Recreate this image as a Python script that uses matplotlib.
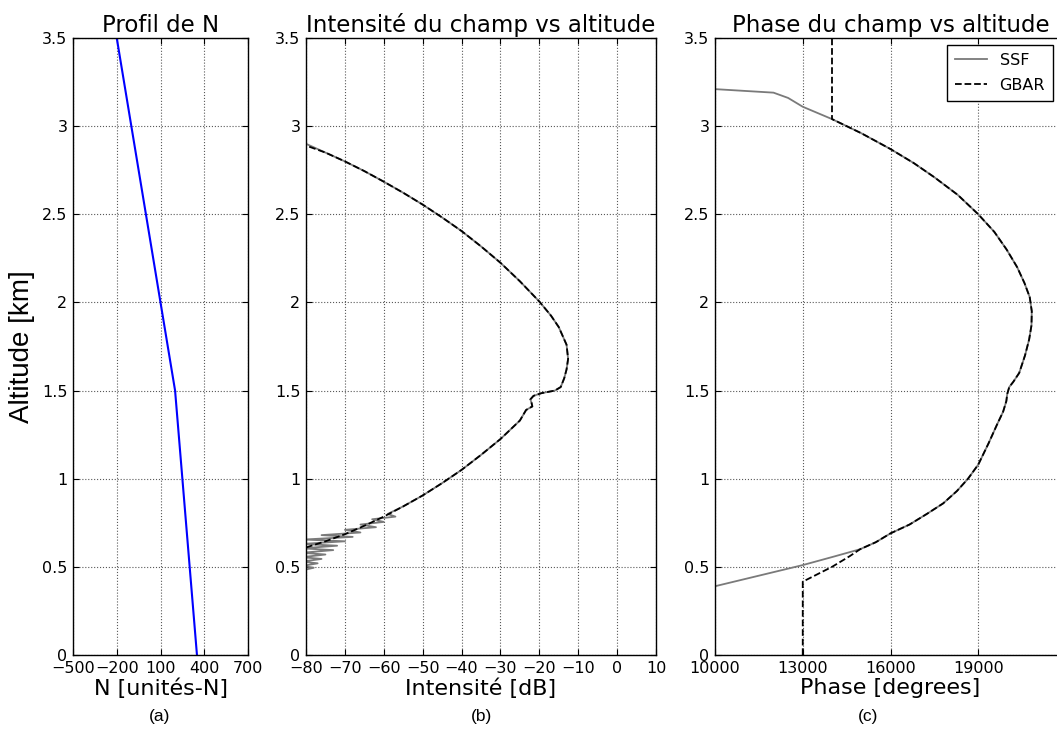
import matplotlib
matplotlib.use('Agg')
import matplotlib.pyplot as plt

# ── Data ─────────────────────────────────────────────────────────────────────
# (a) refractivity profile
n_alt = [0.0, 1.5, 3.5]
n_val = [350, 200, -200]

# (b) field intensity [dB] vs altitude [km]
gbar_b_alt = [0.61, 0.645, 0.685, 0.733, 0.785, 0.843, 0.905, 0.975, 1.05, 1.135, 1.225,
              1.33, 1.39, 1.41, 1.43, 1.45, 1.47, 1.485, 1.50, 1.52, 1.57, 1.62, 1.68,
              1.76, 1.86, 1.925, 2.005, 2.12, 2.225, 2.318, 2.405, 2.482, 2.555, 2.622,
              2.685, 2.745, 2.80, 2.85, 2.89]
gbar_b_db = [-80, -75, -70, -65, -60, -55, -50, -45, -40, -35, -30,
             -25, -23.4, -21.8, -22.0, -22.3, -21.5, -19.5, -16.0, -14.5, -13.6, -13.0, -12.6,
             -13.0, -15.0, -17.0, -20.0, -25.0, -30.0, -35.0, -40.0, -45.0, -50.0, -55.0,
             -60.0, -65.0, -70.0, -75.0, -80]
# SSF: zigzag at low altitude, then the same trace as GBAR
ssf_b_alt = [0.48, 0.495, 0.505, 0.52, 0.53, 0.545, 0.555, 0.57, 0.58, 0.595, 0.605,
             0.62, 0.63, 0.645, 0.655, 0.67, 0.68, 0.695, 0.71, 0.725, 0.74, 0.755,
             0.77, 0.785, 0.80, 0.843, 0.905, 0.975, 1.05, 1.135, 1.225,
             1.33, 1.39, 1.41, 1.43, 1.45, 1.47, 1.485, 1.50, 1.52, 1.57, 1.62, 1.68,
             1.76, 1.86, 1.925, 2.005, 2.12, 2.225, 2.318, 2.405, 2.482, 2.555, 2.622,
             2.685, 2.745, 2.80, 2.85, 2.90]
ssf_b_db = [-81, -78, -81, -77, -81, -76, -81, -75, -81, -73, -81,
            -72, -81, -70, -80.5, -68, -76, -66, -70, -62, -66, -60,
            -63, -57, -59, -55, -50, -45, -40, -35, -30,
            -25, -23.4, -21.8, -22.0, -22.3, -21.5, -19.5, -16.0, -14.5, -13.6, -13.0, -12.6,
            -13.0, -15.0, -17.0, -20.0, -25.0, -30.0, -35.0, -40.0, -45.0, -50.0, -55.0,
            -60.0, -65.0, -70.0, -75.0, -80]

# (c) field phase [degrees] vs altitude [km]
ssf_c_alt = [0.39, 0.45, 0.51, 0.56, 0.60, 0.64, 0.69, 0.74, 0.80, 0.86, 0.93, 1.00,
             1.08, 1.20, 1.31, 1.38, 1.44, 1.48, 1.52, 1.55, 1.60, 1.70, 1.79, 1.87,
             1.95, 2.03, 2.11, 2.20, 2.30, 2.40, 2.50, 2.61, 2.71, 2.79, 2.87, 2.96,
             3.04, 3.11, 3.16, 3.19, 3.21]
ssf_c_ph = [10000, 11500, 13000, 14100, 14960, 15500, 16000, 16650, 17240, 17800, 18270, 18650,
            19000, 19350, 19650, 19850, 19960, 19990, 20060, 20200, 20400, 20600, 20740, 20820,
            20830, 20760, 20580, 20330, 19970, 19550, 19000, 18300, 17500, 16800, 16000, 15000,
            14000, 13000, 12500, 12000, 10000]
gbar_c_alt = [0.0, 0.416, 0.50, 0.56, 0.60, 0.64, 0.69, 0.74, 0.80, 0.86, 0.93, 1.00,
              1.08, 1.20, 1.31, 1.38, 1.44, 1.48, 1.52, 1.55, 1.60, 1.70, 1.79, 1.87,
              1.95, 2.03, 2.11, 2.20, 2.30, 2.40, 2.50, 2.61, 2.71, 2.79, 2.87, 2.96,
              3.04, 3.5]
gbar_c_ph = [13000, 13000, 14000, 14600, 14960, 15500, 16000, 16650, 17240, 17800, 18270, 18650,
             19000, 19350, 19650, 19850, 19960, 19990, 20060, 20200, 20400, 20600, 20740, 20820,
             20830, 20760, 20580, 20330, 19970, 19550, 19000, 18300, 17500, 16800, 16000, 15000,
             14000, 14000]

y_ticks = [0, 0.5, 1, 1.5, 2, 2.5, 3, 3.5]
y_labels = ['0', '0.5', '1', '1.5', '2', '2.5', '3', '3.5']
xa_ticks = [-500, -200, 100, 400, 700]
xb_ticks = [-80, -70, -60, -50, -40, -30, -20, -10, 0, 10]
xc_ticks = [10000, 13000, 16000, 19000]

W, H = 1057, 738
fig = plt.figure(figsize=(W / 100, H / 100), dpi=100)
fig.patch.set_facecolor('white')

def px_axes(x0, x1, y_top=38, y_bot=655):
    return fig.add_axes([x0 / W, 1 - y_bot / H, (x1 - x0) / W, (y_bot - y_top) / H])

ax_a = px_axes(73, 248)
ax_b = px_axes(306, 656)
ax_c = px_axes(715, 1066)

for ax in (ax_a, ax_b, ax_c):
    ax.set_ylim(0, 3.5)
    ax.set_yticks(y_ticks)
    ax.set_yticklabels(y_labels)
    ax.grid(True, linestyle=':', color='0.35', linewidth=0.8)
    ax.tick_params(direction='in', top=True, right=True, labelsize=11.5, pad=4, length=4)
    for s in ax.spines.values():
        s.set_linewidth(1.0)

# (a)
ax_a.plot(n_val, n_alt, color='b', linewidth=1.5)
ax_a.set_xlim(-500, 700)
ax_a.set_xticks(xa_ticks)
ax_a.set_xticklabels([str(v).replace('-', '\u2212') for v in xa_ticks])
ax_a.set_title('Profil de N', fontsize=16.5, pad=4)
ax_a.set_xlabel('N [unités-N]', fontsize=16, labelpad=2)
ax_a.set_ylabel('Altitude [km]', fontsize=20, family=['Liberation Sans', 'DejaVu Sans'],
                labelpad=5)

# (b)
ax_b.plot(ssf_b_db, ssf_b_alt, color='#7a7a7a', linewidth=1.3)
ax_b.plot(gbar_b_db, gbar_b_alt, color='k', linestyle='--', linewidth=1.3)
ax_b.set_xlim(-80, 10)
ax_b.set_xticks(xb_ticks)
ax_b.set_xticklabels([str(v).replace('-', '\u2212') for v in xb_ticks])
ax_b.set_title('Intensité du champ vs altitude', fontsize=16.5, pad=4)
ax_b.set_xlabel('Intensité [dB]', fontsize=16, labelpad=2)

# (c)
ax_c.plot(ssf_c_ph, ssf_c_alt, color='#7a7a7a', linewidth=1.3, label='SSF')
ax_c.plot(gbar_c_ph, gbar_c_alt, color='k', linestyle='--', linewidth=1.3, label='GBAR')
ax_c.set_xlim(10000, 22000)
ax_c.set_xticks(xc_ticks)
ax_c.set_title('Phase du champ vs altitude', fontsize=16.5, pad=4)
ax_c.set_xlabel('Phase [degrees]', fontsize=16, labelpad=2)
leg = ax_c.legend(loc='upper right', bbox_to_anchor=(1053 / W, 1 - 45 / H),
                  bbox_transform=fig.transFigure, borderaxespad=0, fontsize=11.5,
                  fancybox=False, handlelength=2.0, labelspacing=0.6, borderpad=0.5,
                  framealpha=1)
leg.get_frame().set_edgecolor('k')
leg.get_frame().set_linewidth(1.0)

for lbl, xc in (('(a)', 160), ('(b)', 482), ('(c)', 868)):
    fig.text(xc / W, 1 - 716 / H, lbl, ha='center', va='center', fontsize=12.5,
             family=['Liberation Sans', 'DejaVu Sans'])

fig.savefig('out.png', dpi=100, facecolor=fig.get_facecolor())
